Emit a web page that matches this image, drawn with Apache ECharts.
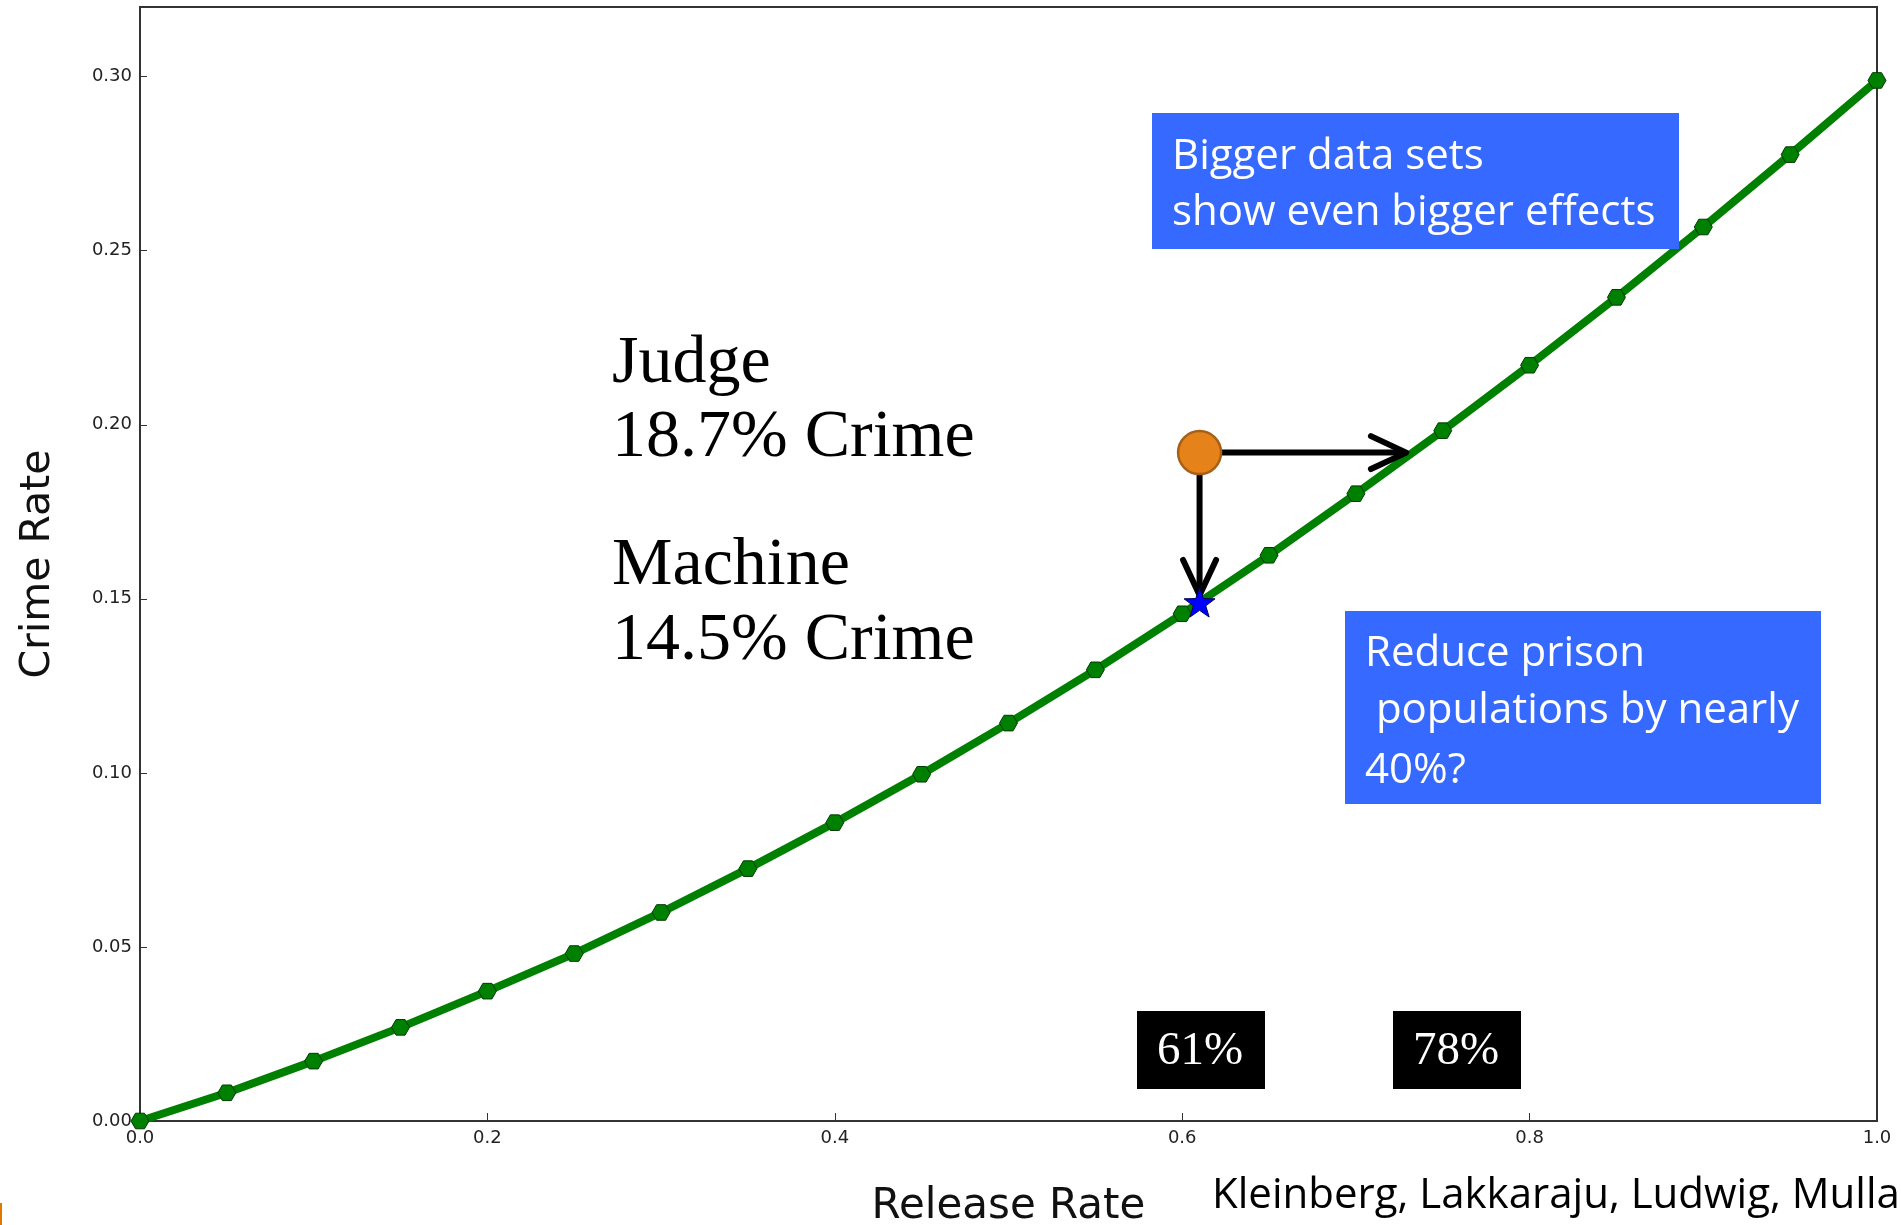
<!DOCTYPE html>
<html><head><meta charset="utf-8">
<script src="https://cdn.jsdelivr.net/npm/echarts@6/dist/echarts.min.js"></script>
<style>html,body{margin:0;padding:0;background:#fff}#c{width:1901px;height:1225px}</style>
</head><body><div id="c"></div>
<script>
// ---- data ----
const releaseRate = [0.00,0.05,0.10,0.15,0.20,0.25,0.30,0.35,0.40,0.45,0.50,0.55,0.60,0.65,0.70,0.75,0.80,0.85,0.90,0.95,1.00];
const crimeRate   = [0.0000,0.0081,0.0172,0.0269,0.0373,0.0481,0.0599,0.0725,0.0857,0.0996,0.1143,0.1296,0.1457,0.1625,0.1802,0.1983,0.2171,0.2366,0.2568,0.2776,0.2989];
const judgePoint   = [0.61, 0.192];
const machinePoint = [0.61, 0.149];
const arrowSegments = [[0.61, 0.192, 0.729, 0.192], [0.61, 0.192, 0.61, 0.151]];
const judgeLines   = ['Judge', '18.7% Crime'];
const machineLines = ['Machine', '14.5% Crime'];
const box1Lines = ['Bigger data sets', 'show even bigger effects'];
const box2Lines = ['Reduce prison', ' populations by nearly', '40%?'];
const pctLabels = ['61%', '78%'];
const xAxisTitle = 'Release Rate';
const yAxisTitle = 'Crime Rate';
const credit = 'Kleinberg, Lakkaraju, Ludwig, Mulla';

const lineData = releaseRate.map((x, i) => [x, crimeRate[i]]);
const HEX = 'path://M-1,0 L-0.5,-0.866 L0.5,-0.866 L1,0 L0.5,0.866 L-0.5,0.866 Z';
const STAR = 'path://M0,-1 L0.235,-0.324 L0.951,-0.309 L0.380,0.124 L0.588,0.809 L0,0.4 L-0.588,0.809 L-0.380,0.124 L-0.951,-0.309 L-0.235,-0.324 Z';

const chart = echarts.init(document.getElementById('c'), null, {renderer: 'canvas'});
const tickLabel = {fontFamily: 'DejaVu Sans', fontSize: 18, color: '#222', margin: 8};
const serif = 'Liberation Serif';
const sans = 'Open Sans';

function txt(x, y, s, font, size, color, align) {
  return {type: 'text', x: x, y: y, z: 100,
    style: {text: s, fontFamily: font, fontSize: size, fill: color, align: align || 'left', verticalAlign: 'middle'}};
}

const graphics = [];
// Judge / Machine text
graphics.push(txt(612, 364, judgeLines[0], serif, 68, '#000'));
graphics.push(txt(612, 438, judgeLines[1], serif, 68, '#000'));
graphics.push(txt(612, 566, machineLines[0], serif, 68, '#000'));
graphics.push(txt(612, 641, machineLines[1], serif, 68, '#000'));
// blue box 1
graphics.push({type: 'rect', z: 90, shape: {x: 1152, y: 113, width: 527, height: 136}, style: {fill: '#3669ff'}});
graphics.push(txt(1172, 157, box1Lines[0], sans, 42, '#fff'));
graphics.push(txt(1172, 213, box1Lines[1], sans, 42, '#fff'));
// blue box 2
graphics.push({type: 'rect', z: 90, shape: {x: 1345, y: 611, width: 476, height: 193}, style: {fill: '#3669ff'}});
graphics.push(txt(1365, 654, box2Lines[0], sans, 42, '#fff'));
graphics.push(txt(1365, 711, box2Lines[1], sans, 42, '#fff'));
graphics.push(txt(1365, 771, box2Lines[2], sans, 42, '#fff'));
// black percentage boxes
graphics.push({type: 'rect', z: 90, shape: {x: 1137, y: 1011, width: 128, height: 78}, style: {fill: '#000'}});
graphics.push(txt(1200, 1052, pctLabels[0], serif, 47, '#fff', 'center'));
graphics.push({type: 'rect', z: 90, shape: {x: 1393, y: 1011, width: 128, height: 78}, style: {fill: '#000'}});
graphics.push(txt(1456, 1052, pctLabels[1], serif, 47, '#fff', 'center'));
// credit line
graphics.push(txt(1212, 1196, credit, sans, 42, '#000'));
// small orange edge mark
graphics.push({type: 'rect', z: 90, shape: {x: 0, y: 1203, width: 2, height: 22}, style: {fill: '#e07800'}});

const option = {
  backgroundColor: '#fff',
  animation: false,
  grid: {left: 140, right: 24, top: 7, bottom: 104, show: true, borderColor: '#333', borderWidth: 2,
         backgroundColor: 'transparent', containLabel: false, outerBoundsMode: 'none'},
  xAxis: {
    type: 'value', min: 0, max: 1, interval: 0.2,
    name: xAxisTitle, nameLocation: 'middle', nameGap: 65,
    nameTextStyle: {fontFamily: 'DejaVu Sans', fontSize: 42, color: '#111'},
    axisLine: {show: true, lineStyle: {color: '#333', width: 2}},
    axisTick: {show: true, inside: true, length: 8, lineStyle: {color: '#333', width: 1}},
    axisLabel: Object.assign({formatter: v => v.toFixed(1)}, tickLabel),
    splitLine: {show: false}
  },
  yAxis: {
    type: 'value', min: 0, max: 0.32, interval: 0.05,
    name: yAxisTitle, nameLocation: 'middle', nameGap: 81,
    nameTextStyle: {fontFamily: 'DejaVu Sans', fontSize: 41, color: '#111'},
    axisLine: {show: true, lineStyle: {color: '#333', width: 2}},
    axisTick: {show: true, inside: true, length: 7, lineStyle: {color: '#333', width: 1}},
    axisLabel: Object.assign({formatter: v => (Math.abs(v / 0.05 - Math.round(v / 0.05)) < 1e-6 ? v.toFixed(2) : ''), showMaxLabel: false}, tickLabel),
    splitLine: {show: false}
  },
  series: [
    {
      type: 'line', data: lineData, z: 2,
      symbol: HEX, symbolSize: 18, symbolKeepAspect: true, showSymbol: true,
      lineStyle: {color: '#008000', width: 8},
      itemStyle: {color: '#008000', borderColor: '#003a00', borderWidth: 1},
      clip: true
    },
    {
      type: 'custom', z: 3, data: arrowSegments, encode: {x: [0, 2], y: [1, 3]},
      renderItem: function (params, api) {
        const p0 = api.coord([api.value(0), api.value(1)]);
        const p1 = api.coord([api.value(2), api.value(3)]);
        const dx = p1[0] - p0[0], dy = p1[1] - p0[1];
        const len = Math.sqrt(dx * dx + dy * dy);
        const ux = dx / len, uy = dy / len;
        const arm = 39, ang = 25 * Math.PI / 180;
        const c = Math.cos(ang), s = Math.sin(ang);
        const a1 = [p1[0] - arm * (ux * c - uy * s), p1[1] - arm * (uy * c + ux * s)];
        const a2 = [p1[0] - arm * (ux * c + uy * s), p1[1] - arm * (uy * c - ux * s)];
        const st = {stroke: '#000', lineWidth: 6, fill: null, lineCap: 'round', lineJoin: 'round'};
        return {type: 'group', children: [
          {type: 'line', shape: {x1: p0[0], y1: p0[1], x2: p1[0] - ux * 3, y2: p1[1] - uy * 3}, style: st},
          {type: 'polyline', shape: {points: [a1, p1, a2]}, style: st}
        ]};
      }
    },
    {
      type: 'scatter', z: 4, data: [judgePoint], symbol: 'circle', symbolSize: 43,
      itemStyle: {color: '#e5831a', borderColor: '#a65f17', borderWidth: 2.5, opacity: 1}
    },
    {
      type: 'scatter', z: 4, data: [machinePoint], symbol: STAR, symbolSize: 31, symbolKeepAspect: true,
      itemStyle: {color: '#0000ff', borderColor: '#000055', borderWidth: 1, opacity: 1}
    }
  ],
  graphic: graphics
};
chart.setOption(option);
</script>
</body></html>
